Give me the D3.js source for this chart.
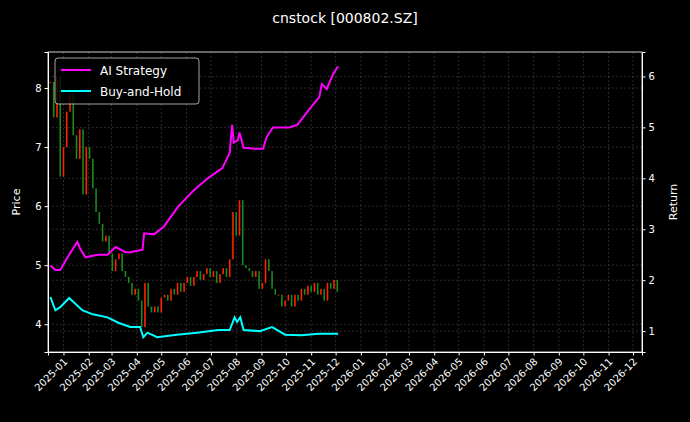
<!DOCTYPE html>
<html>
<head>
<meta charset="utf-8">
<script src="https://cdn.jsdelivr.net/npm/d3@7"></script>
<style>
  body { margin: 0; background: #000; }
  text { font-family: "DejaVu Sans", sans-serif; fill: #fff; }
</style>
</head>
<body>
<svg id="chart" width="690" height="422"></svg>
<script>
// candle closes, one every 4 calendar days starting 2024-12-16
const candleStart = "2024-12-16";
const candleStep = 4;
const closes = [8.1, 7.5, 8.2, 6.5, 7.0, 7.6, 7.9, 7.2, 6.8, 7.3, 6.2, 7.0, 6.8, 6.3, 5.9, 5.7, 5.4, 5.5,
  5.2, 4.9, 5.1, 5.2, 4.9, 4.8, 4.7, 4.5, 4.6, 4.4, 3.95, 4.7, 4.3, 4.2, 4.3, 4.2, 4.45, 4.5, 4.4, 4.6,
  4.5, 4.7, 4.55, 4.7, 4.8, 4.65, 4.8, 4.9, 4.75, 4.85, 4.95, 4.8, 4.9, 4.7, 4.85, 4.95, 4.8, 5.1, 5.9,
  5.5, 6.1, 5.0, 4.95, 4.9, 4.8, 4.9, 4.6, 4.7, 5.1, 4.9, 4.6, 4.5, 4.5, 4.3, 4.4, 4.5, 4.3, 4.5, 4.4,
  4.6, 4.5, 4.65, 4.55, 4.7, 4.5, 4.6, 4.4, 4.7, 4.6, 4.75, 4.55];

const aiDates = ["2024-12-16","2024-12-22","2024-12-28","2025-01-06","2025-01-18","2025-01-22","2025-01-28",
  "2025-02-12","2025-02-24","2025-03-06","2025-03-18","2025-03-24","2025-04-08","2025-04-10","2025-04-22",
  "2025-05-04","2025-05-22","2025-06-09","2025-06-27","2025-07-15","2025-07-24","2025-07-27","2025-07-29",
  "2025-08-03","2025-08-05","2025-08-10","2025-08-25","2025-09-03","2025-09-07","2025-09-15","2025-10-05",
  "2025-10-15","2025-10-27","2025-11-11","2025-11-14","2025-11-20","2025-11-28","2025-12-04"];
const aiReturn = [2.29, 2.2, 2.2, 2.45, 2.75, 2.6, 2.45, 2.5, 2.5, 2.65, 2.55, 2.55, 2.6, 2.92, 2.9,
  3.05, 3.45, 3.75, 4.0, 4.2, 4.5, 5.05, 4.7, 4.75, 4.9, 4.6, 4.58, 4.58, 4.8, 5.0, 5.0,
  5.05, 5.3, 5.6, 5.85, 5.75, 6.05, 6.2];

const bhDates = ["2024-12-16","2024-12-22","2024-12-28","2025-01-08","2025-01-24","2025-02-06","2025-02-24",
  "2025-03-10","2025-03-24","2025-04-05","2025-04-09","2025-04-14","2025-04-26","2025-05-20","2025-06-14",
  "2025-07-10","2025-07-24","2025-07-30","2025-08-02","2025-08-06","2025-08-10","2025-08-30","2025-09-14",
  "2025-09-30","2025-10-20","2025-11-10","2025-12-04"];
const bhReturn = [1.67, 1.41, 1.47, 1.65, 1.41, 1.33, 1.27, 1.16, 1.08, 1.08, 0.88, 0.97, 0.88, 0.93, 0.97,
  1.02, 1.02, 1.27, 1.18, 1.27, 1.02, 1.0, 1.08, 0.93, 0.92, 0.95, 0.95];

const monthTicks = ["2025-01","2025-02","2025-03","2025-04","2025-05","2025-06","2025-07","2025-08","2025-09",
  "2025-10","2025-11","2025-12","2026-01","2026-02","2026-03","2026-04","2026-05","2026-06","2026-07","2026-08",
  "2026-09","2026-10","2026-11","2026-12"];
const priceTicks = [4, 5, 6, 7, 8];
const returnTicks = [1, 2, 3, 4, 5, 6];

const svg = d3.select("#chart");
const pL = 48, pR = 642, pT = 52, pB = 352;
const parse = d3.utcParse("%Y-%m-%d");
const parseM = d3.utcParse("%Y-%m");

const x = d3.scaleUtc().domain([parse("2024-12-13"), parse("2026-12-12")]).range([pL, pR]);
const yP = d3.scaleLinear().domain([3.53, 8.61]).range([pB, pT]);
const yR = d3.scaleLinear().domain([0.59, 6.48]).range([pB, pT]);

svg.append("rect").attr("width", 690).attr("height", 422).attr("fill", "#000");

// grid
const grid = svg.append("g").attr("stroke", "#555").attr("stroke-width", 0.5).attr("stroke-dasharray", "2,2");
monthTicks.forEach(m => grid.append("line").attr("x1", x(parseM(m))).attr("x2", x(parseM(m))).attr("y1", pT).attr("y2", pB));
priceTicks.forEach(v => grid.append("line").attr("x1", pL).attr("x2", pR).attr("y1", yP(v)).attr("y2", yP(v)));
returnTicks.forEach(v => grid.append("line").attr("x1", pL).attr("x2", pR).attr("y1", yR(v)).attr("y2", yR(v)));

// candles
const start = parse(candleStart);
const candles = closes.map((c, i) => ({
  date: d3.utcDay.offset(start, i * candleStep),
  open: i ? closes[i - 1] : c,
  close: c
}));
svg.append("g").selectAll("rect").data(candles).join("rect")
  .attr("x", d => x(d.date) - 0.8)
  .attr("width", 1.6)
  .attr("y", d => yP(Math.max(d.open, d.close)))
  .attr("height", d => Math.max(1, Math.abs(yP(d.open) - yP(d.close))))
  .attr("fill", d => d.close >= d.open ? "#ff2200" : "#1a8a1a");

// return lines
const line = d3.line().x(d => x(d[0])).y(d => yR(d[1]));
svg.append("path").datum(aiDates.map((d, i) => [parse(d), aiReturn[i]]))
  .attr("d", line).attr("fill", "none").attr("stroke", "#ff00ff").attr("stroke-width", 2);
svg.append("path").datum(bhDates.map((d, i) => [parse(d), bhReturn[i]]))
  .attr("d", line).attr("fill", "none").attr("stroke", "#00ffff").attr("stroke-width", 2);

// frame
svg.append("rect").attr("x", pL).attr("y", pT).attr("width", pR - pL).attr("height", pB - pT)
  .attr("fill", "none").attr("stroke", "#fff").attr("stroke-width", 0.8);

// axes
const xAxis = svg.append("g").attr("transform", `translate(0,${pB})`)
  .call(d3.axisBottom(x).tickValues(monthTicks.map(parseM)).tickFormat(d3.utcFormat("%Y-%m")).tickSizeOuter(0).tickSize(3.5));
xAxis.selectAll("text").attr("x", 0).attr("y", 0).attr("dy", "0.6em")
  .attr("transform", "translate(0,6) rotate(-45)").attr("text-anchor", "end").style("font-size", "10px");

const yAxisL = svg.append("g").attr("transform", `translate(${pL},0)`)
  .call(d3.axisLeft(yP).tickValues(priceTicks).tickFormat(d3.format("d")).tickSizeOuter(0).tickSize(3.5));
yAxisL.selectAll("text").style("font-size", "10px");
const yAxisR = svg.append("g").attr("transform", `translate(${pR},0)`)
  .call(d3.axisRight(yR).tickValues(returnTicks).tickFormat(d3.format("d")).tickSizeOuter(0).tickSize(3.5));
yAxisR.selectAll("text").style("font-size", "10px");
svg.selectAll(".domain").attr("stroke", "#fff");
svg.selectAll(".tick line").attr("stroke", "#fff");
svg.selectAll(".tick text").attr("fill", "#fff");

svg.append("text").attr("transform", `translate(20,${(pT + pB) / 2}) rotate(-90)`)
  .attr("text-anchor", "middle").style("font-size", "11px").text("Price");
svg.append("text").attr("transform", `translate(677,${(pT + pB) / 2}) rotate(-90)`)
  .attr("text-anchor", "middle").style("font-size", "11px").text("Return");
svg.append("text").attr("x", 345).attr("y", 23).attr("text-anchor", "middle")
  .style("font-size", "14px").text("cnstock [000802.SZ]");

// legend
const lg = svg.append("g").attr("transform", "translate(55,58)");
lg.append("rect").attr("width", 144).attr("height", 46).attr("rx", 3)
  .attr("fill", "#000").attr("fill-opacity", 0.8).attr("stroke", "#ccc").attr("stroke-width", 0.8);
[["AI Strategy", "#ff00ff"], ["Buy-and-Hold", "#00ffff"]].forEach(([t, c], i) => {
  lg.append("line").attr("x1", 6).attr("x2", 36).attr("y1", 12 + i * 21).attr("y2", 12 + i * 21)
    .attr("stroke", c).attr("stroke-width", 2);
  lg.append("text").attr("x", 45).attr("y", 16.5 + i * 21).style("font-size", "12px").text(t);
});
</script>
</body>
</html>
